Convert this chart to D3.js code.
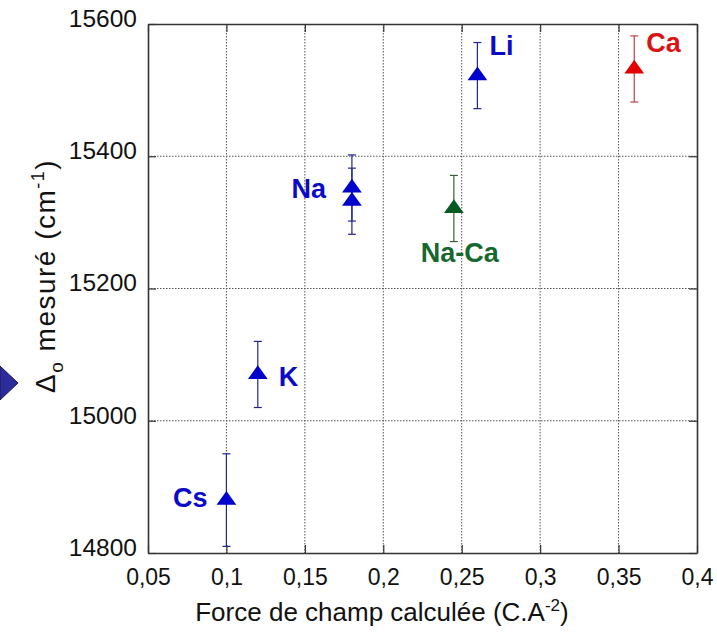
<!DOCTYPE html>
<html>
<head>
<meta charset="utf-8">
<script src="https://cdn.jsdelivr.net/npm/d3@7"></script>
<style>
  body { margin: 0; background: #fff; }
  svg text { font-family: "Liberation Sans", Arial, sans-serif; }
</style>
</head>
<body>
<div id="chart"></div>
<script>
// --- data ---
const sites = ["Cs", "K", "Na", "Na", "Li", "Na-Ca", "Ca"];
const force = [0.10, 0.12, 0.18, 0.18, 0.26, 0.245, 0.36];
const delta = [14880, 15070, 15352, 15332, 15522, 15321, 15532];
const errs = [70, 50, 50, 50, 50, 50, 50];
const group = ["alk", "alk", "alk", "alk", "alk", "mix", "ca"];

const xTicks = [0.05, 0.1, 0.15, 0.2, 0.25, 0.3, 0.35, 0.4];
const yTicks = [14800, 15000, 15200, 15400, 15600];

// label names shown next to points (Na only once)
const labelNames = ["Cs", "K", "Na", "Li", "Na-Ca", "Ca"];
const labelIdx = [0, 1, 2, 4, 5, 6];

const colors = {
  alk: { mark: "#0000cc", bar: "#23238f", text: "#0a0ac8" },
  mix: { mark: "#055a22", bar: "#3a5e3a", text: "#17682f" },
  ca:  { mark: "#e30000", bar: "#c0404c", text: "#d81414" }
};

const W = 717, H = 633;
const m = { top: 24, right: 20, bottom: 80, left: 148 };

const svg = d3.select("#chart").append("svg")
  .attr("width", W).attr("height", H);

const x = d3.scaleLinear().domain([0.05, 0.4]).range([m.left, W - m.right]);
const y = d3.scaleLinear().domain([14800, 15600]).range([H - m.bottom, m.top]);

const fmt = d => String(d).replace(".", ",");

// grid (dotted)
const grid = svg.append("g");
grid.selectAll(".gx").data(xTicks.slice(1, -1)).enter().append("line")
  .attr("x1", d => x(d)).attr("x2", d => x(d))
  .attr("y1", y.range()[1]).attr("y2", y.range()[0])
  .attr("stroke", "#555").attr("stroke-width", 1).attr("stroke-dasharray", "1.5,1.5");
grid.selectAll(".gy").data(yTicks.slice(1, -1)).enter().append("line")
  .attr("y1", d => y(d)).attr("y2", d => y(d))
  .attr("x1", x.range()[0]).attr("x2", x.range()[1])
  .attr("stroke", "#555").attr("stroke-width", 1).attr("stroke-dasharray", "1.5,1.5");

// axes with inward ticks
const xAxis = svg.append("g")
  .attr("transform", `translate(0,${y.range()[0]})`)
  .call(d3.axisBottom(x).tickValues(xTicks).tickFormat(fmt).tickSizeInner(-8).tickSizeOuter(0).tickPadding(16));
const xTop = svg.append("g")
  .attr("transform", `translate(0,${y.range()[1]})`)
  .call(d3.axisTop(x).tickValues(xTicks).tickFormat("").tickSizeInner(-8).tickSizeOuter(0));
const yAxis = svg.append("g")
  .attr("transform", `translate(${x.range()[0]},0)`)
  .call(d3.axisLeft(y).tickValues(yTicks).tickFormat(d => d).tickSizeInner(-8).tickSizeOuter(0).tickPadding(11));
const yRight = svg.append("g")
  .attr("transform", `translate(${x.range()[1]},0)`)
  .call(d3.axisRight(y).tickValues(yTicks).tickFormat("").tickSizeInner(-8).tickSizeOuter(0));

[xAxis, xTop, yAxis, yRight].forEach(a => {
  a.select(".domain").attr("stroke", "#333").attr("stroke-width", 1.6);
  a.selectAll(".tick line").attr("stroke", "#333").attr("stroke-width", 1.2);
  a.selectAll("text").attr("fill", "#111").style("font-size", "23px")
    .style("font-family", "'Liberation Sans', Arial, sans-serif");
});
yAxis.selectAll("text").attr("dy", "0.1em").style("font-size", "24.5px");
xAxis.selectAll("text").attr("dy", "0.71em");

// error bars
const pts = svg.append("g");
const cap = 4;
sites.forEach((s, i) => {
  const c = colors[group[i]];
  const px = x(force[i]);
  const y1 = y(delta[i] + errs[i]), y2 = y(delta[i] - errs[i]);
  pts.append("line").attr("x1", px).attr("x2", px).attr("y1", y1).attr("y2", y2)
    .attr("stroke", c.bar).attr("stroke-width", 1.2);
  [y1, y2].forEach(yy => pts.append("line")
    .attr("x1", px - cap).attr("x2", px + cap).attr("y1", yy).attr("y2", yy)
    .attr("stroke", c.bar).attr("stroke-width", 1.2));
});

// triangle markers
const tri = d3.symbol().type(d3.symbolTriangle).size(135);
sites.forEach((s, i) => {
  pts.append("path").attr("d", tri)
    .attr("transform", `translate(${x(force[i])},${y(delta[i])}) scale(1.12,0.9)`)
    .attr("fill", colors[group[i]].mark);
});

// point labels
const labelOff = [[-19, 7, "end"], [21, 12, "start"], [-26, 10, "end"],
                  [12, -21, "start"], [6, 54, "middle"], [12, -17, "start"]];
labelNames.forEach((name, k) => {
  const i = labelIdx[k];
  const o = labelOff[k];
  svg.append("text")
    .attr("x", x(force[i]) + o[0]).attr("y", y(delta[i]) + o[1])
    .attr("text-anchor", o[2])
    .attr("fill", colors[group[i]].text)
    .style("font-size", "27px").style("font-weight", "bold")
    .text(name);
});

// x axis title
const xt = svg.append("text").attr("x", 382).attr("y", 621)
  .attr("text-anchor", "middle").attr("fill", "#111").style("font-size", "26px");
xt.append("tspan").text("Force de champ calculée (C.A");
xt.append("tspan").attr("dy", -10).style("font-size", "17px").text("-2");
xt.append("tspan").attr("dy", 10).text(")");

// y axis title
const yt = svg.append("text")
  .attr("transform", "translate(55,393) rotate(-90)")
  .attr("text-anchor", "start").attr("fill", "#111")
  .style("font-size", "28px").style("letter-spacing", "1.5px");
yt.append("tspan").text("Δ");
yt.append("tspan").attr("dy", 8).style("font-size", "19px").text("o");
yt.append("tspan").attr("dy", -8).text(" mesuré (cm");
yt.append("tspan").attr("dy", -11).style("font-size", "18px").text("-1");
yt.append("tspan").attr("dy", 11).text(")");

// pointer triangle at the left edge
svg.append("path")
  .attr("d", "M0,366 L18,383 L0,400 Z")
  .attr("fill", "#2c2c9c").attr("stroke", "#1a1a50").attr("stroke-width", 1);
</script>
</body>
</html>
